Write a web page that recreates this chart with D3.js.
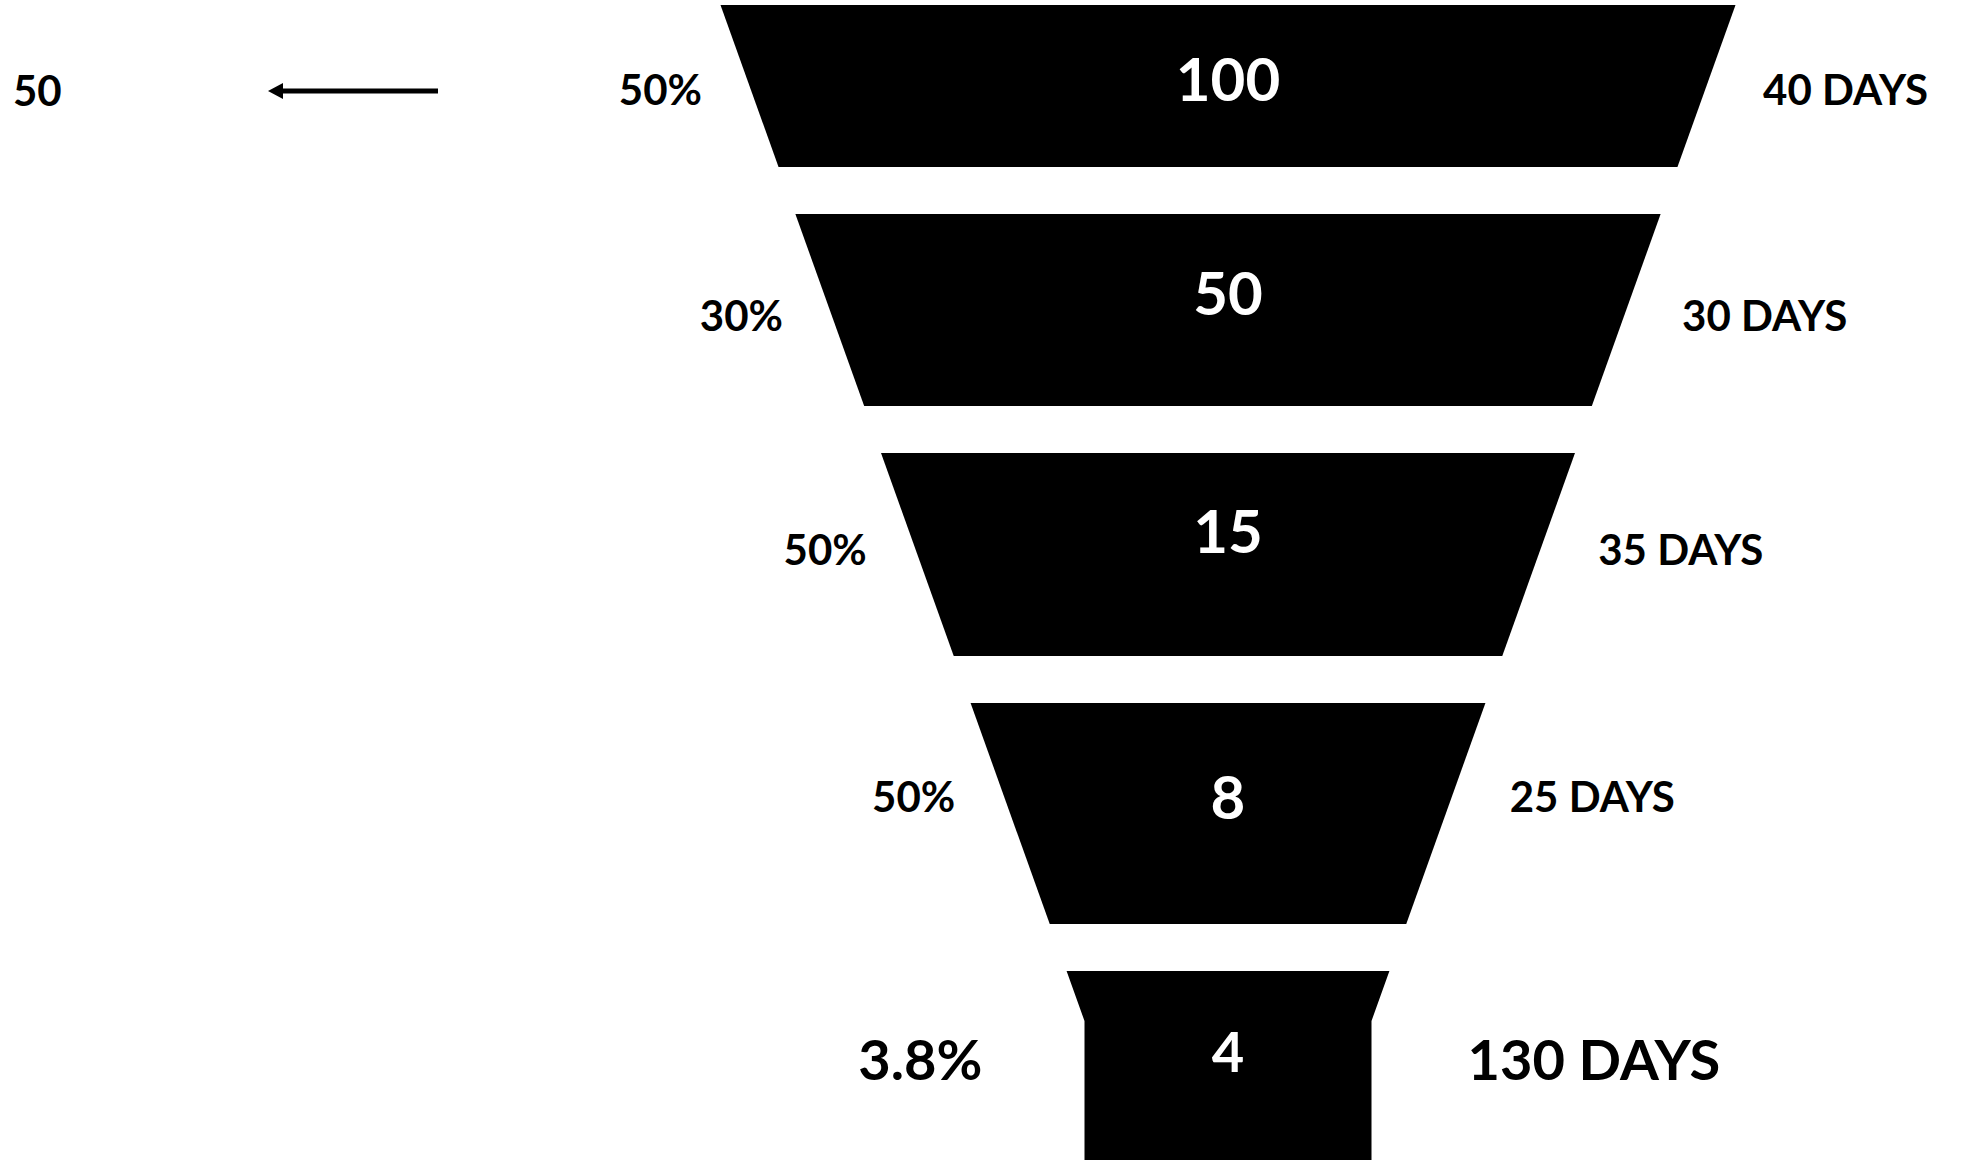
<!DOCTYPE html>
<html>
<head>
<meta charset="utf-8">
<script src="https://cdn.jsdelivr.net/npm/d3@7"></script>
<style>
  body { margin: 0; background: #fff; }
  text { font-family: Lato, "Open Sans", sans-serif; font-weight: 700; }
</style>
</head>
<body>
<script>
// funnel stages, top to bottom (last one is the total)
const stageValues = [100, 50, 15, 8, 4];
const stageRates = ["50%", "30%", "50%", "50%", "3.8%"];
const stageDays = ["40 DAYS", "30 DAYS", "35 DAYS", "25 DAYS", "130 DAYS"];
const sideNote = "50";

var width = 1964, height = 1160;

var svg = d3.select("body").append("svg")
    .attr("width", width)
    .attr("height", height);

svg.append("rect").attr("width", width).attr("height", height).attr("fill", "#fff");

var cx = 1228,
    gap = 47,
    stemTop = 1021;

// band edges of each stage
var y = d3.scaleLinear()
  .domain([0, 1, 2, 3, 4, 5])
  .range([5, 214, 453, 703, 971, 1207]);

// rows for the side labels and the values inside
var sideRow = d3.scaleLinear()
  .domain([0, 1, 2, 3, 4])
  .range([90, 316, 550, 797, 1060]);
var valueRow = d3.scaleLinear()
  .domain([0, 1, 2, 3, 4])
  .range([80, 294, 532, 798, 1052]);

// half width of the funnel at a given height
var half = d3.scaleLinear()
  .domain([5, stemTop])
  .range([507.5, 143.5]);

var line = d3.line();

// baseline for text whose cap height is centred on cy
var base = function(cy, fs) { return cy + 0.358 * fs; };

var last = stageValues.length - 1;

stageValues.forEach(function(v, i) {
  var t = y(i), b = Math.min(y(i + 1) - gap, height);
  var pts;
  if (i < last) {
    pts = [[cx - half(t), t], [cx + half(t), t], [cx + half(b), b], [cx - half(b), b]];
  } else {
    var s = half(stemTop);
    pts = [[cx - half(t), t], [cx + half(t), t], [cx + s, stemTop],
           [cx + s, height + 5], [cx - s, height + 5], [cx - s, stemTop]];
  }
  svg.append("path")
    .attr("d", line(pts) + "Z")
    .attr("fill", "#000");

  var ly = sideRow(i),
      vy = valueRow(i);

  var sideFs = i < last ? 42 : 56,
      valFs = i < last ? 60 : 56;

  var leftX = i < last ? cx - half(ly) - 49 : cx - half(stemTop) - 102,
      rightX = i < last ? cx + half(ly) + 58 : cx + half(stemTop) + 96;

  svg.append("text")
    .attr("x", cx)
    .attr("y", base(vy, valFs))
    .attr("text-anchor", "middle")
    .attr("font-size", valFs)
    .attr("fill", "#fff")
    .text(v);

  svg.append("text")
    .attr("x", leftX)
    .attr("y", base(ly, sideFs))
    .attr("text-anchor", "end")
    .attr("font-size", sideFs)
    .attr("fill", "#000")
    .text(stageRates[i]);

  svg.append("text")
    .attr("x", rightX)
    .attr("y", base(ly, sideFs))
    .attr("text-anchor", "start")
    .attr("font-size", sideFs)
    .attr("fill", "#000")
    .text(stageDays[i]);
});

// side note with arrow, level with the first rate
var noteY = 91;

svg.append("text")
  .attr("x", 13)
  .attr("y", base(noteY, 42))
  .attr("font-size", 42)
  .attr("fill", "#000")
  .text(sideNote);

svg.append("line")
  .attr("x1", 438).attr("y1", noteY)
  .attr("x2", 280).attr("y2", noteY)
  .attr("stroke", "#000")
  .attr("stroke-width", 5);

svg.append("path")
  .attr("d", line([[268, noteY], [283, noteY - 8], [283, noteY + 8]]) + "Z")
  .attr("fill", "#000");
</script>
</body>
</html>
